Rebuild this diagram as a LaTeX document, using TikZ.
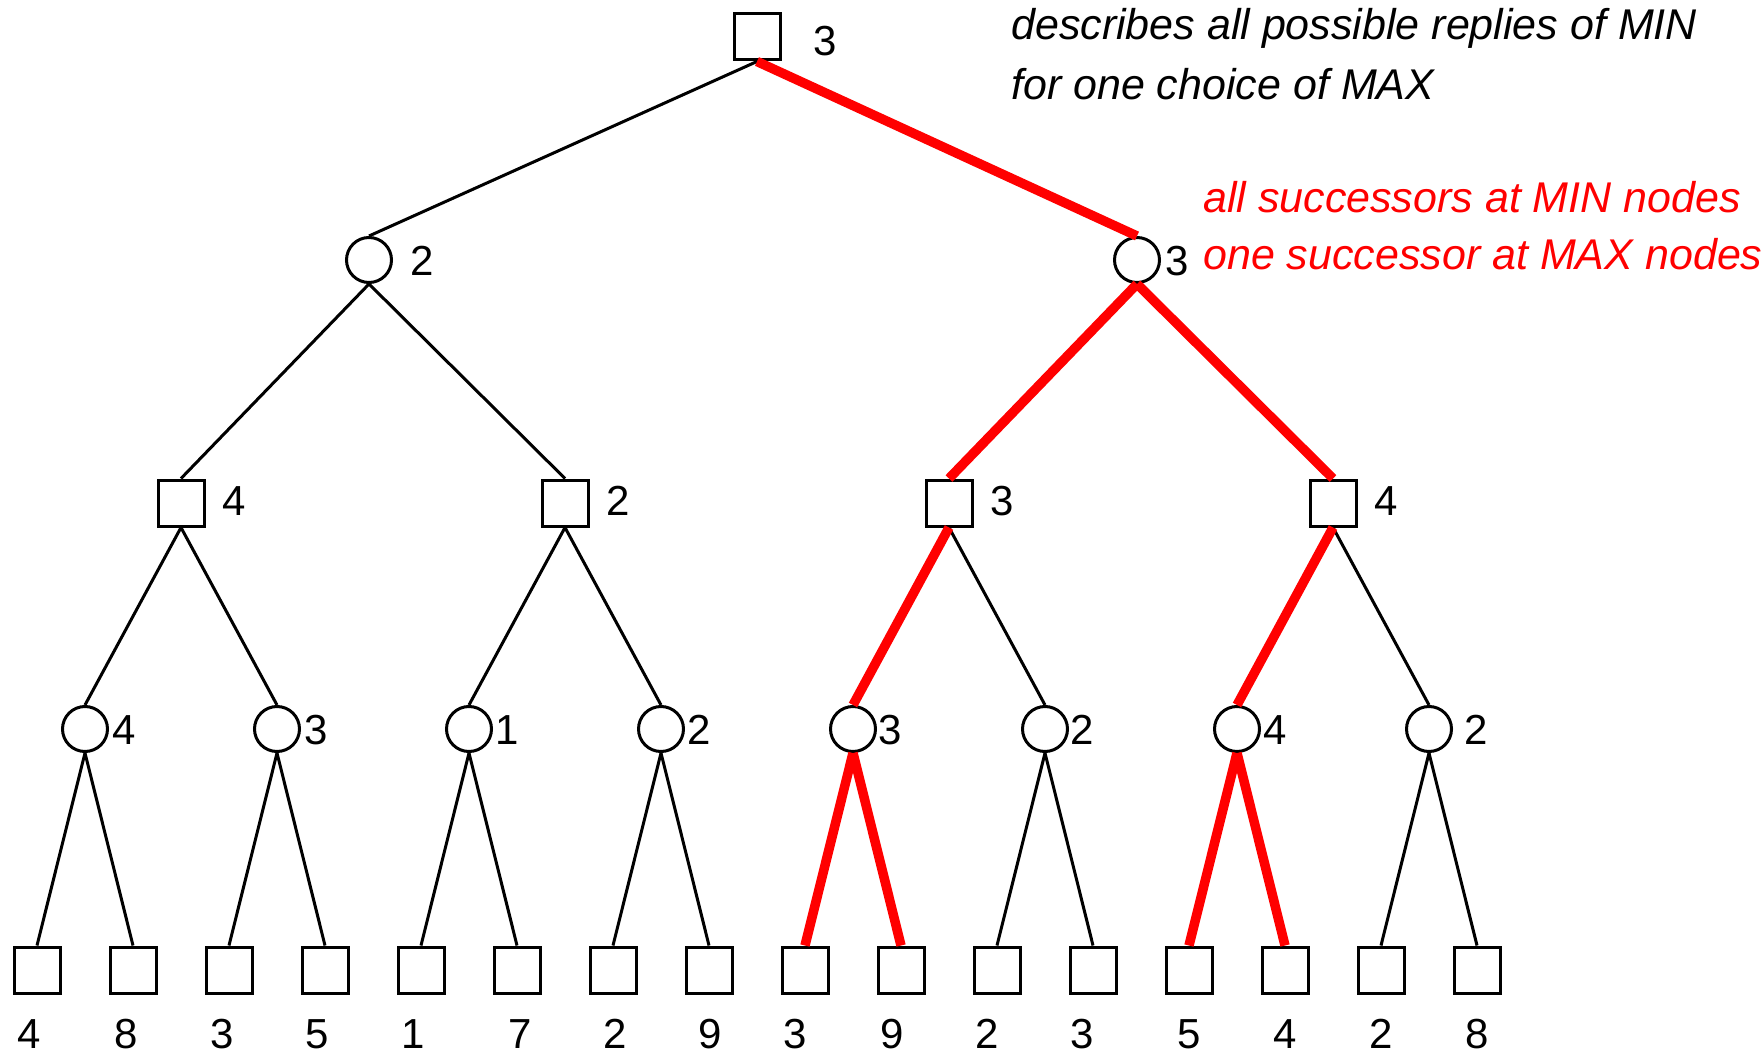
\documentclass[tikz,border=0pt]{standalone}
\usepackage{fontspec}
\setmainfont{Liberation Sans}
\begin{document}
\begin{tikzpicture}[x=1pt,y=-1pt,
  maxnode/.style={draw,rectangle,line width=3pt,minimum size=46pt,inner sep=0pt},
  minnode/.style={draw,circle,line width=3pt,minimum size=45pt,inner sep=0pt},
  val/.style={inner sep=0pt,font=\fontsize{42}{50}\selectfont},
  note/.style={inner sep=0pt,anchor=base west,font=\fontsize{43}{52}\selectfont\itshape},
  edge/.style={line width=3pt},
  redge/.style={line width=9.5pt,red}]
\useasboundingbox (0,0) rectangle (1764,1056);

% MAX root
\node[maxnode] (r) at (757,37) {};
\node[val] (rv) at (825,41) {3};

% MIN level
\node[minnode] (a1) at (369,260) {};
\node[minnode] (a2) at (1137,260) {};
\node[val] (a1v) at (422,261) {2};
\node[val] (a2v) at (1177,261) {3};

% MAX level
\foreach \i/\x/\v in {1/181/4,2/565/2,3/949/3,4/1333/4}{
  \node[maxnode] (b\i) at (\x,503) {};
  \node[val] (b\i v) at (\x+53,501) {\v};
}

% MIN level above the leaves
\foreach \i/\x/\lx/\v in {1/85/124/4,2/277/316/3,3/469/507/1,4/661/699/2,
                         5/853/890/3,6/1045/1082/2,7/1237/1275/4,8/1429/1476/2}{
  \node[minnode] (c\i) at (\x,729) {};
  \node[val] (c\i v) at (\lx,730) {\v};
}

% leaves
\foreach \i/\x/\lx/\v in {1/37/29/4,2/133/126/8,3/229/222/3,4/325/317/5,
                         5/421/413/1,6/517/520/7,7/613/615/2,8/709/710/9,
                         9/805/795/3,10/901/892/9,11/997/987/2,12/1093/1082/3,
                         13/1189/1189/5,14/1285/1285/4,15/1381/1381/2,16/1477/1477/8}{
  \node[maxnode] (d\i) at (\x,970) {};
  \node[val] (d\i v) at (\lx,1034) {\v};
}

% black edges
\draw[edge] (r.south) -- (a1.north);
\draw[edge] (a1.south) -- (b1.north);
\draw[edge] (a1.south) -- (b2.north);
\draw[edge] (b1.south) -- (c1.north);
\draw[edge] (b1.south) -- (c2.north);
\draw[edge] (b2.south) -- (c3.north);
\draw[edge] (b2.south) -- (c4.north);
\draw[edge] (b3.south) -- (c6.north);
\draw[edge] (b4.south) -- (c8.north);
\foreach \c/\l/\rr in {1/1/2,2/3/4,3/5/6,4/7/8,6/11/12,8/15/16}{
  \draw[edge] (c\c.south) -- (d\l.north);
  \draw[edge] (c\c.south) -- (d\rr.north);
}

% red strategy edges
\draw[redge] (r.south) -- (a2.north);
\draw[redge] (a2.south) -- (b3.north);
\draw[redge] (a2.south) -- (b4.north);
\draw[redge] (b3.south) -- (c5.north);
\draw[redge] (b4.south) -- (c7.north);
\draw[redge] (c5.south) -- (d9.north);
\draw[redge] (c5.south) -- (d10.north);
\draw[redge] (c7.south) -- (d13.north);
\draw[redge] (c7.south) -- (d14.north);

% notes
\node[note] (n1) at (1011,40) {describes all possible replies of MIN};
\node[note] (n2) at (1011,100) {for one choice of MAX};
\node[note,text=red] (n3) at (1203,213) {all successors at MIN nodes};
\node[note,text=red] (n4) at (1203,270) {one successor at MAX nodes};
\end{tikzpicture}
\end{document}
